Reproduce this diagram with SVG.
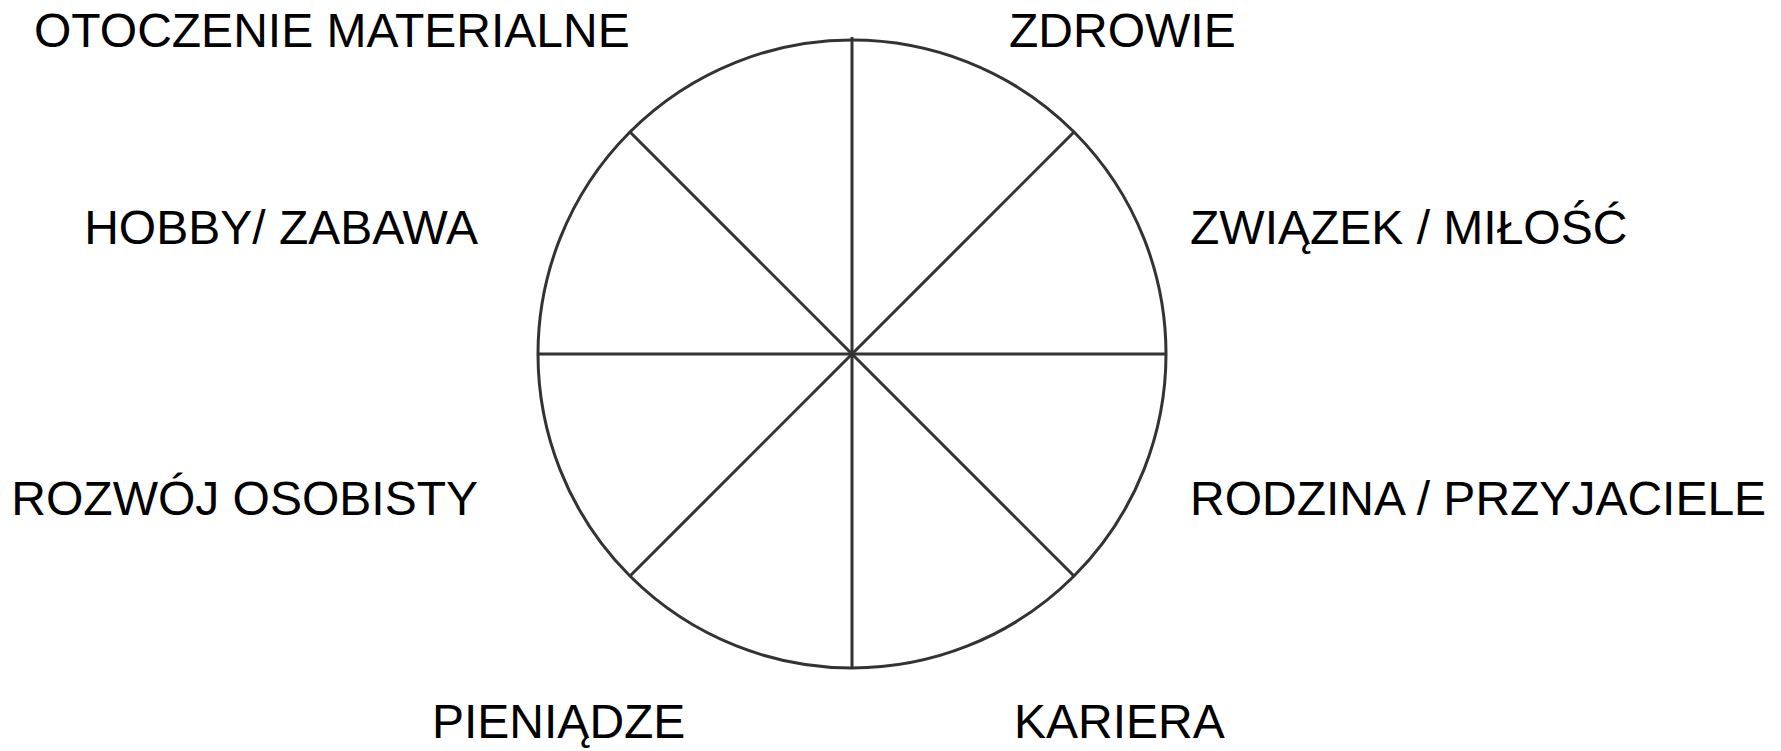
<svg xmlns="http://www.w3.org/2000/svg" width="1781" height="751" viewBox="0 0 1781 751">
<style>
.lbl{font-family:"Liberation Sans",Arial,sans-serif;font-size:48px;fill:#000}
.ln{stroke:#333;stroke-width:3;fill:none}
</style>
<rect width="1781" height="751" fill="#fff"/>
<g id="wheel">
<circle class="ln" cx="852" cy="354" r="314"/>
</g>
<g id="connectors">
<line class="ln" x1="852" y1="37" x2="852" y2="668"/>
<line class="ln" x1="538" y1="354" x2="1166" y2="354"/>
<line class="ln" x1="630" y1="132" x2="1074" y2="576"/>
<line class="ln" x1="1074" y1="132" x2="630" y2="576"/>
</g>
<g id="n-otoczenie"><text class="lbl" x="34" y="47">OTOCZENIE MATERIALNE</text></g>
<g id="n-zdrowie"><text class="lbl" x="1009" y="47">ZDROWIE</text></g>
<g id="n-hobby"><text class="lbl" x="478" y="244" text-anchor="end">HOBBY/ ZABAWA</text></g>
<g id="n-zwiazek"><text class="lbl" x="1190" y="244">ZWIĄZEK / MIŁOŚĆ</text></g>
<g id="n-rozwoj"><text class="lbl" x="478" y="515" text-anchor="end">ROZWÓJ OSOBISTY</text></g>
<g id="n-rodzina"><text class="lbl" x="1190" y="515">RODZINA / PRZYJACIELE</text></g>
<g id="n-pieniadze"><text class="lbl" x="432" y="738">PIENIĄDZE</text></g>
<g id="n-kariera"><text class="lbl" x="1014" y="738">KARIERA</text></g>
</svg>
